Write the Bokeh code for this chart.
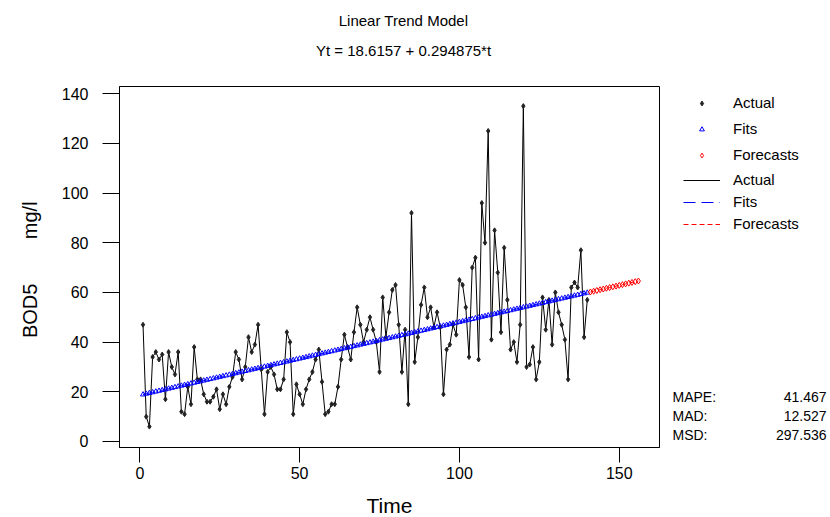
from bokeh.plotting import figure
from bokeh.layouts import row, column
from bokeh.models import (Range1d, Label, Legend, LegendItem, FixedTicker)
from bokeh.embed import file_html
from bokeh.resources import INLINE

# ---------------- data ----------------
time_index = list(range(1, 141))
bod5 = [
    47, 10, 6, 34, 36, 33, 35, 17, 36, 30,
    27, 36, 12, 11, 22, 15, 38, 25, 25, 19,
    16, 16, 18, 21, 13, 19, 15, 22, 26, 36,
    33, 25, 30, 42, 36, 39, 47, 29, 11, 28,
    30, 27, 21, 21, 25, 44, 40, 11, 23, 19,
    15, 21, 25, 28, 33, 37, 24, 11, 12, 15,
    15, 22, 33, 43, 38, 33, 44, 54, 47, 40,
    45, 50, 45, 40, 28, 58, 42, 52, 61, 63,
    47, 28, 45, 15, 92, 32, 42, 55, 62, 50,
    54, 46, 52, 46, 19, 37, 39, 47, 43, 65,
    63, 54, 34, 70, 74, 33, 96, 80, 125, 41,
    85, 68, 44, 78, 57, 37, 40, 32, 47, 135,
    30, 31, 38, 25, 32, 58, 45, 57, 39, 60,
    52, 47, 41, 25, 62, 64, 62, 77, 42, 57,
]
# trend model coefficients shown in the chart title
intercept = 18.6157
slope = 0.294875
forecast_index = list(range(141, 157))
fits = [intercept + slope * t for t in time_index]
forecasts = [intercept + slope * t for t in forecast_index]

x_ticks = [0, 50, 100, 150]
y_ticks = [0, 20, 40, 60, 80, 100, 120, 140]
stats_names = ["MAPE:", "MAD:", "MSD:"]
stats_values = ["41.467", "12.527", "297.536"]
title_1 = "Linear Trend Model"
title_2 = "Yt = 18.6157 + 0.294875*t"
x_label = "Time"
y_label = "BOD5\u00a0\u00a0\u00a0\u00a0\u00a0\u00a0\u00a0\u00a0mg/l\u00a0"
legend_labels = ["Actual", "Fits", "Forecasts"]

FONT = "Liberation Sans"
NAN = float("nan")

# ---------------- geometry (canvas px) ----------------
W, H = 830, 517
W_MAIN = 660
W_SIDE = W - W_MAIN
TOP_H = 85            # strip holding the two title lines
BOT_H = 30            # strip holding the x-axis title
MID_H = H - TOP_H - BOT_H
FL = 119              # frame left
FT = TOP_H + 1        # frame top  (86)
FB = TOP_H + MID_H - 40   # frame bottom (447)


def blank_fig(width, height, bl=0, br=0, bt=0, bb=0):
    f = figure(width=width, height=height, output_backend="svg", toolbar_location=None,
               x_range=Range1d(0, 1), y_range=Range1d(0, 1),
               min_border_left=bl, min_border_right=br,
               min_border_top=bt, min_border_bottom=bb)
    f.axis.visible = False
    f.grid.visible = False
    f.outline_line_color = None
    f.background_fill_color = "white"
    f.border_fill_color = "white"
    return f


def screen_label(fig, text, x, y, size, align="left"):
    fig.add_layout(Label(x=x, y=y, x_units="screen", y_units="screen", text=text,
                         text_font=FONT, text_font_size=size, text_align=align,
                         text_baseline="middle", text_color="black"))


# ---------------- title strip ----------------
top = blank_fig(W, TOP_H, bl=FL, br=W - W_MAIN + 1)
screen_label(top, title_1, 403 - FL, TOP_H - 20, "15px", "center")
screen_label(top, title_2, 403 - FL, TOP_H - 50, "15px", "center")

# ---------------- main plot ----------------
p = figure(width=W_MAIN, height=MID_H, output_backend="svg", toolbar_location=None,
           x_range=Range1d(-6.36, 162.6), y_range=Range1d(-2.42, 142.9),
           min_border_left=FL, min_border_right=1,
           min_border_top=1, min_border_bottom=40)
p.background_fill_color = "white"
p.border_fill_color = "white"
p.outline_line_color = "black"
p.outline_line_width = 1
p.grid.visible = False

for ax, ticks in ((p.xaxis, x_ticks), (p.yaxis, y_ticks)):
    ax.ticker = FixedTicker(ticks=ticks)
    ax.minor_tick_line_color = None
    ax.axis_line_color = "black"
    ax.major_tick_line_color = "black"
    ax.major_tick_in = 0
    ax.major_label_text_font = FONT
    ax.major_label_text_font_size = "16px"
    ax.major_label_text_color = "black"
    ax.axis_label_text_font = FONT
    ax.axis_label_text_font_style = "normal"
    ax.axis_label_text_color = "black"
p.xaxis.major_tick_out = 15
p.xaxis.major_label_standoff = 4
p.yaxis.major_tick_out = 17
p.yaxis.major_label_standoff = 14
p.yaxis.axis_label = y_label
p.yaxis.axis_label_text_font_size = "20px"
p.yaxis.axis_label_standoff = 18

r_act_line = p.line(time_index, bod5, line_color="black", line_width=1)
r_act_pts = p.scatter(time_index, bod5, marker="diamond", size=5,
                      fill_color="#222222", line_color="#222222")
r_fit_line = p.line(time_index, fits, line_color="blue", line_width=1, line_dash="12 6")
r_fit_pts = p.scatter(time_index, fits, marker="triangle", size=5,
                      fill_alpha=0, line_color="blue", line_width=1)
r_fc_line = p.line(forecast_index, forecasts, line_color="red", line_width=1, line_dash="5 3")
r_fc_pts = p.scatter(forecast_index, forecasts, marker="diamond", size=6,
                     fill_alpha=0, line_color="red", line_width=1)

# ---------------- side panel: legend + accuracy measures ----------------
s = blank_fig(W_SIDE, MID_H, bt=1, bb=40)
d_act_pts = s.scatter([NAN], [NAN], marker="diamond", size=5, fill_color="#222222", line_color="#222222")
d_fit_pts = s.scatter([NAN], [NAN], marker="triangle", size=5, fill_alpha=0, line_color="blue", line_width=1)
d_fc_pts = s.scatter([NAN], [NAN], marker="diamond", size=6, fill_alpha=0, line_color="red", line_width=1)
d_act_line = s.line([NAN, NAN], [NAN, NAN], line_color="black", line_width=1)
d_fit_line = s.line([NAN, NAN], [NAN, NAN], line_color="blue", line_width=1, line_dash="12 6")
d_fc_line = s.line([NAN, NAN], [NAN, NAN], line_color="red", line_width=1, line_dash="5 3")

X0 = W_MAIN  # canvas x of side panel's left edge
leg_common = dict(glyph_width=37, glyph_height=12, label_height=12,
                  label_standoff=13, padding=0, margin=0,
                  border_line_color=None, background_fill_alpha=0,
                  label_text_font=FONT, label_text_font_size="15px",
                  label_text_color="black")
leg1 = Legend(items=[LegendItem(label=lab, renderers=[r]) for lab, r in
                     zip(legend_labels, [d_act_pts, d_fit_pts, d_fc_pts])],
              spacing=9, location=(683 - X0, FB - 163), **leg_common)
leg2 = Legend(items=[LegendItem(label=lab, renderers=[r]) for lab, r in
                     zip(legend_labels, [d_act_line, d_fit_line, d_fc_line])],
              spacing=5, location=(683 - X0, FB - 232), **leg_common)
s.add_layout(leg1)
s.add_layout(leg2)

for i, (nm, val) in enumerate(zip(stats_names, stats_values)):
    yy = FB - (396 + 19 * i)
    screen_label(s, nm, 672 - X0, yy, "14px", "left")
    screen_label(s, val, 826 - X0, yy, "14px", "right")

# ---------------- x-axis title strip ----------------
bot = blank_fig(W, BOT_H, bl=FL, br=W - W_MAIN + 1)
screen_label(bot, x_label, 389 - FL, BOT_H - (505 - (H - BOT_H)), "21px", "center")

layout = column(top, row(p, s, spacing=0), bot, spacing=0)
open("out.html", "w").write(file_html(layout, INLINE))
